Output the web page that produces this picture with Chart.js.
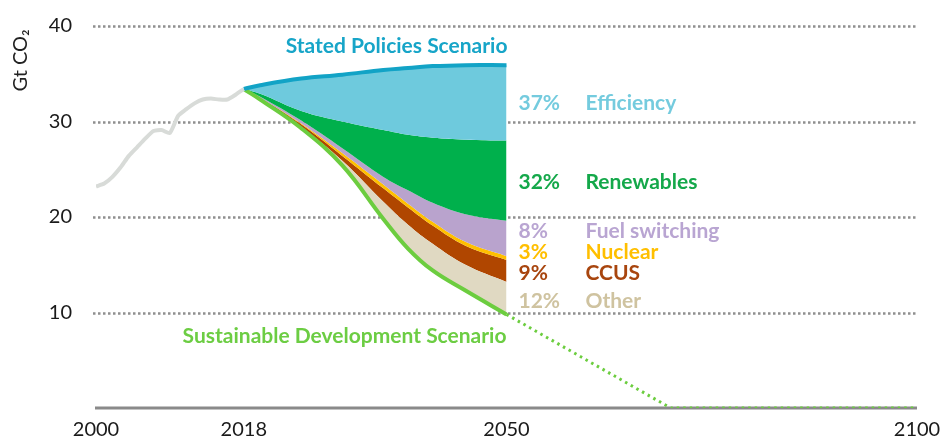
<!DOCTYPE html>
<html>
<head>
<meta charset="utf-8">
<script src="https://cdn.jsdelivr.net/npm/chart.js@4"></script>
<style>
  html, body { margin: 0; padding: 0; background: #fff; }
  #wrap { width: 943px; height: 439px; position: relative; }
</style>
</head>
<body>
<div id="wrap"><canvas id="grafico"></canvas></div>
<script>
// ======== DADOS ===========
const histYears = [2000, 2001, 2002, 2003, 2004, 2005, 2006, 2007, 2008, 2009,
  2010, 2011, 2012, 2013, 2014, 2015, 2016, 2017, 2018];
const histValues = [23.2, 23.5, 24.2, 25.2, 26.4, 27.3, 28.2, 29.0, 29.1, 28.8,
  30.6, 31.3, 31.9, 32.3, 32.4, 32.3, 32.3, 32.8, 33.4];

const projYears = [2018, 2020, 2025, 2030, 2035, 2038, 2041, 2045, 2050];
const statedPolicies  = [33.4, 33.8, 34.5, 34.9, 35.4, 35.6, 35.8, 35.9, 35.9];
const afterEfficiency = [33.4, 32.9, 31.1, 30.0, 29.1, 28.6, 28.3, 28.1, 28.0];
const afterRenewables = [33.4, 32.6, 30.1, 27.2, 24.2, 22.8, 21.5, 20.3, 19.6];
const afterFuelSwitch = [33.4, 32.5, 29.8, 26.7, 23.4, 21.4, 19.5, 17.4, 15.9];
const afterNuclear    = [33.4, 32.5, 29.7, 26.4, 23.0, 21.0, 19.1, 17.0, 15.5];
const afterCcus       = [33.4, 32.45, 29.4, 25.9, 21.6, 19.2, 17.2, 15.0, 13.2];
const sustainable     = [33.4, 32.3, 29.3, 25.4, 19.8, 16.7, 14.4, 12.3, 9.8];

const sdsTailYears = [2050, 2070, 2100];
const sdsTailValues = [9.8, 0, 0];

const xTicks = [2000, 2018, 2050, 2100];
const yTicks = [10, 20, 30, 40];

const wedges = [
  { pct: '37%', name: 'Efficiency',     color: '#74cbde', y: 31.9 },
  { pct: '32%', name: 'Renewables',     color: '#14a84a', y: 23.6 },
  { pct: '8%',  name: 'Fuel switching', color: '#b9a5d2', y: 18.5 },
  { pct: '3%',  name: 'Nuclear',        color: '#ffbf00', y: 16.3 },
  { pct: '9%',  name: 'CCUS',           color: '#a8450e', y: 14.1 },
  { pct: '12%', name: 'Other',          color: '#cfc3a0', y: 11.2 }
];

const pts = (xs, ys) => xs.map((x, i) => ({ x, y: ys[i] }));
const FONT = 'Lato, "Open Sans", sans-serif';

// ======== PLUGINS ===========
const grade = {
  id: 'grade',
  beforeDatasetsDraw(chart) {
    const { ctx, scales: { x, y } } = chart;
    ctx.save();
    ctx.strokeStyle = '#8f8f8f';
    ctx.lineWidth = 2.5;
    ctx.setLineDash([2.5, 2.5]);
    yTicks.forEach(v => {
      const py = Math.round(y.getPixelForValue(v)) + 0.5;
      ctx.beginPath();
      ctx.moveTo(x.left - 3, py);
      ctx.lineTo(x.right, py);
      ctx.stroke();
    });
    ctx.setLineDash([]);
    ctx.strokeStyle = '#8a8a8a';
    ctx.lineWidth = 3;
    const p0 = y.getPixelForValue(0);
    ctx.beginPath();
    ctx.moveTo(x.left - 1, p0);
    ctx.lineTo(x.right, p0);
    ctx.stroke();
    ctx.restore();
  }
};

const rotulos = {
  id: 'rotulos',
  afterDraw(chart) {
    const { ctx, scales: { x, y } } = chart;
    const x50 = x.getPixelForValue(2050);
    ctx.save();
    ctx.textBaseline = 'middle';

    ctx.font = 'bold 21px ' + FONT;
    ctx.textAlign = 'right';
    ctx.fillStyle = '#17a5c8';
    ctx.fillText('Stated Policies Scenario', x50 + 1, y.getPixelForValue(37.9));
    ctx.fillStyle = '#6ccd43';
    ctx.fillText('Sustainable Development Scenario', x50, y.getPixelForValue(7.5));

    ctx.textAlign = 'left';
    wedges.forEach(w => {
      ctx.fillStyle = w.color;
      const py = y.getPixelForValue(w.y);
      ctx.fillText(w.pct, x50 + 12, py);
      ctx.fillText(w.name, x50 + 79, py);
    });

    ctx.translate(21, y.getPixelForValue(36.4));
    ctx.rotate(-Math.PI / 2);
    ctx.textAlign = 'center';
    ctx.fillStyle = '#222';
    ctx.font = '20px ' + FONT;
    ctx.fillText('Gt CO₂', 0, 0);
    ctx.restore();
  }
};

// ======== GRÁFICO ===========
const area = (data, color) => ({
  data: pts(projYears, data),
  fill: '-1',
  backgroundColor: color,
  borderWidth: 0,
  pointRadius: 0,
  tension: 0.4,
  order: 1
});

new Chart(document.getElementById('grafico'), {
  type: 'line',
  data: {
    datasets: [
      {
        data: pts(histYears, histValues),
        borderColor: '#d8dbd8',
        borderWidth: 4,
        pointRadius: 0,
        fill: false,
        tension: 0.2,
        order: 0
      },
      {
        data: pts(projYears, statedPolicies),
        borderColor: '#12a3c6',
        borderWidth: 4,
        pointRadius: 0,
        fill: false,
        tension: 0.4,
        order: 0
      },
      area(afterEfficiency, '#6ecadd'),
      area(afterRenewables, '#00b04c'),
      area(afterFuelSwitch, '#b9a3cd'),
      area(afterNuclear, '#ffc000'),
      area(afterCcus, '#b04600'),
      {
        data: pts(projYears, sustainable),
        fill: '-1',
        backgroundColor: '#e0d9c2',
        borderColor: '#6ccd3f',
        borderWidth: 4,
        pointRadius: 0,
        tension: 0.4,
        order: 0
      },
      {
        data: pts(sdsTailYears, sdsTailValues),
        borderColor: '#6ccd3f',
        borderWidth: 3,
        borderDash: [2.5, 4],
        pointRadius: 0,
        fill: false,
        order: 0
      }
    ]
  },
  options: {
    responsive: true,
    maintainAspectRatio: false,
    animation: false,
    layout: { padding: { top: 26, right: 26, left: 0, bottom: 0 } },
    plugins: {
      legend: { display: false },
      tooltip: { enabled: false }
    },
    scales: {
      x: {
        type: 'linear',
        min: 2000,
        max: 2100,
        grid: { display: false, drawTicks: false },
        border: { display: false },
        afterBuildTicks: s => { s.ticks = xTicks.map(v => ({ value: v })); },
        afterFit: s => {
          s.height = 31;
          s.paddingLeft = 0;
          s.paddingRight = 0;
        },
        ticks: {
          autoSkip: false,
          maxRotation: 0,
          padding: 10,
          color: '#1a1a1a',
          font: { family: FONT, size: 20 },
          callback: v => String(v)
        }
      },
      y: {
        min: 0,
        max: 40,
        grid: { display: false, drawTicks: false },
        border: { display: false },
        afterBuildTicks: s => { s.ticks = yTicks.map(v => ({ value: v })); },
        afterFit: s => {
          s.width = 96;
          s.paddingTop = 0;
          s.paddingBottom = 0;
        },
        ticks: {
          padding: 24,
          color: '#1a1a1a',
          font: { family: FONT, size: 20 },
          callback: v => String(v)
        }
      }
    }
  },
  plugins: [grade, rotulos]
});
</script>
</body>
</html>
